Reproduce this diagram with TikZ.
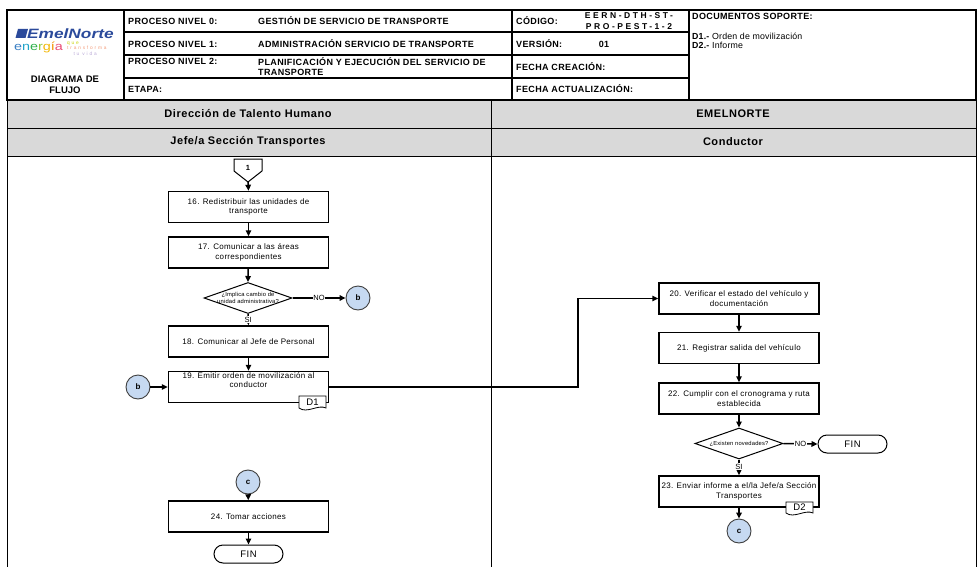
\documentclass[tikz,border=0pt]{standalone}
\usepackage{fontspec}
\setmainfont{Liberation Sans}
\usetikzlibrary{shapes.geometric,arrows.meta}
\definecolor{lanegray}{HTML}{D9D9D9}
\definecolor{connblue}{HTML}{C6D9F1}
\definecolor{logoblue}{HTML}{2B4A9B}
\tikzset{
  hdr/.style={line width=1.3pt},
  ht/.style={anchor=west, inner sep=0pt, font=\fontsize{9}{10}\selectfont\bfseries\addfontfeature{LetterSpace=4}},
  lanebox/.style={draw, line width=0.9pt, fill=lanegray},
  lanetxt/.style={font=\fontsize{11}{12}\selectfont\bfseries\addfontfeature{LetterSpace=5}},
  box/.style={draw, line width=1.5pt, minimum width=160, minimum height=31, inner sep=1pt,
    align=center, font=\fontsize{8}{9.5}\selectfont\addfontfeature{LetterSpace=4}},
  boxtxt/.style={align=center, inner sep=0pt, font=\fontsize{8}{9.5}\selectfont\addfontfeature{LetterSpace=4}},
  dec/.style={diamond, draw, line width=1pt, minimum width=88, minimum height=31, inner sep=0pt},
  dectxt/.style={align=center, inner sep=0pt, font=\fontsize{5.8}{6.8}\selectfont\addfontfeature{LetterSpace=3}},
  term/.style={draw, line width=1pt, rounded corners=9pt, minimum width=69, minimum height=18,
    inner sep=0pt, font=\fontsize{9.5}{10}\selectfont\addfontfeature{LetterSpace=5}},
  conn/.style={circle, draw=black!75, line width=0.9pt, fill=connblue, minimum size=24, inner sep=0pt,
    font=\fontsize{8}{9}\selectfont\bfseries},
  arr/.style={-{Triangle[length=6pt,width=5.5pt]}, line width=1.5pt},
  lbl/.style={fill=white, inner sep=0.5pt, font=\fontsize{7.5}{8}\selectfont},
  docshp/.style={draw, line width=0.8pt, fill=white},
}
\begin{document}
\begin{tikzpicture}[x=1pt,y=-1pt]
\useasboundingbox (0,0) rectangle (977,567);

% ---------- header ----------
\draw[hdr] (7,10) rectangle (976,100);
\draw[hdr] (124,10) -- (124,100);
\draw[hdr] (512,10) -- (512,100);
\draw[hdr] (689,10) -- (689,100);
\draw[hdr] (124,32) -- (689,32);
\draw[hdr] (124,55) -- (689,55);
\draw[hdr] (124,78) -- (689,78);

% logo
\fill[logoblue] (18,29) -- (28,29) -- (25.5,38) -- (15.5,38) -- cycle;
\node[anchor=west, inner sep=0pt, text=logoblue, font=\fontsize{13.5}{14}\selectfont\bfseries\itshape\addfontfeature{FakeStretch=1.28}] (logo) at (27,33.5) {EmelNorte};
\node[anchor=west, inner sep=0pt, font=\fontsize{11.5}{12}\selectfont\addfontfeature{FakeStretch=1.25}] (energia) at (14,47.5)
  {\textcolor[HTML]{3A7FC4}{e}\textcolor[HTML]{1FA3C9}{n}\textcolor[HTML]{2DB04B}{e}\textcolor[HTML]{8CC63F}{r}\textcolor[HTML]{F2B705}{g}\textcolor[HTML]{F39200}{í}\textcolor[HTML]{E94E77}{a}};
\node[anchor=west, inner sep=0pt, align=left, font=\fontsize{4.8}{5.4}\selectfont\addfontfeature{LetterSpace=38}] (lema) at (67,48.5)
  {\textcolor[HTML]{C9D200}{que}\\\textcolor[HTML]{F39C7B}{transforma}\\\textcolor[HTML]{B9A8D6}{\ \ tu vida}};
\node[align=center, inner sep=0pt, font=\fontsize{9.5}{11}\selectfont\bfseries] (diag) at (65,84.5) {DIAGRAMA DE\\FLUJO};

% process rows
\node[ht] (p0) at (128,21) {PROCESO NIVEL 0:};
\node[ht] (v0) at (258,21) {GESTIÓN DE SERVICIO DE TRANSPORTE};
\node[ht] (p1) at (128,44) {PROCESO NIVEL 1:};
\node[ht] (v1) at (258,44) {ADMINISTRACIÓN SERVICIO DE TRANSPORTE};
\node[ht] (p2) at (128,61) {PROCESO NIVEL 2:};
\node[ht, anchor=north west, align=left] (v2) at (258,57) {PLANIFICACIÓN Y EJECUCIÓN DEL SERVICIO DE\\TRANSPORTE};
\node[ht] (etapa) at (128,89) {ETAPA:};

% code column
\node[ht] (cod) at (516,21) {CÓDIGO:};
\node[ht, anchor=center, align=center, font=\fontsize{8.5}{11.5}\selectfont\bfseries\addfontfeature{LetterSpace=30}] (codv) at (629,21) {EERN-DTH-ST-\\PRO-PEST-1-2};
\node[ht] (ver) at (516,44) {VERSIÓN:};
\node[ht, anchor=center] (verv) at (604,44) {01};
\node[ht] (fc) at (516,67) {FECHA CREACIÓN:};
\node[ht] (fa) at (516,89) {FECHA ACTUALIZACIÓN:};

% documents
\node[ht] (docs) at (692,16) {DOCUMENTOS SOPORTE:};
\node[anchor=west, inner sep=0pt, font=\fontsize{8.8}{9}\selectfont\addfontfeature{LetterSpace=2}] (d1t) at (692,36) {\textbf{D1.-} Orden de movilización};
\node[anchor=west, inner sep=0pt, font=\fontsize{8.8}{9}\selectfont\addfontfeature{LetterSpace=2}] (d2t) at (692,45) {\textbf{D2.-} Informe};

% ---------- lanes ----------
\draw[lanebox] (7,100) rectangle (491,128);
\draw[lanebox] (491,100) rectangle (976,128);
\draw[lanebox] (7,128) rectangle (491,156);
\draw[lanebox] (491,128) rectangle (976,156);
\node[lanetxt] (l1) at (248,114) {Dirección de Talento Humano};
\node[lanetxt] (l2) at (733,114) {EMELNORTE};
\node[lanetxt] (l3) at (248,142) {Jefe/a Sección Transportes};
\node[lanetxt] (l4) at (733,142) {Conductor};
\draw[line width=0.9pt] (7,156) -- (7,567);
\draw[line width=0.9pt] (491,156) -- (491,567);
\draw[line width=0.9pt] (976,156) -- (976,567);

% ---------- left flow ----------
\draw[line width=1pt] (234,159) -- (262,159) -- (262,171) -- (248,182) -- (234,171) -- cycle;
\node[font=\fontsize{7.5}{8}\selectfont\bfseries, inner sep=0pt] (off1) at (248,168) {1};
\coordinate (off1tip) at (248,182);

\node[box] (b16) at (248.5,207) {16. Redistribuir las unidades de\\transporte};
\node[box] (b17) at (248.5,252.5) {17. Comunicar a las áreas\\correspondientes};
\node[dec] (dec1) at (248,298) {};
\node[dectxt] (dec1t) at (248,298) {¿Implica cambio de\\unidad administrativa?};
\node[conn] (bR) at (358,298) {b};
\node[box] (b18) at (248.5,341.5) {18. Comunicar al Jefe de Personal};
\node[box] (b19) at (248.5,387) {};
\node[boxtxt] (b19t) at ([yshift=7pt]b19.center) {19. Emitir orden de movilización al\\conductor};
\node[conn] (bL) at (138,387) {b};
\draw[docshp] (299,396) -- (326,396) -- (326,408) .. controls (318,404) and (307,414) .. (299,408) -- cycle;
\node[inner sep=0pt, font=\fontsize{9.5}{10}\selectfont] (d1) at (312.5,402) {D1};

\node[conn] (cL) at (248,482) {c};
\node[box] (b24) at (248.5,516.5) {24. Tomar acciones};
\node[term] (finL) at (248.5,554) {FIN};

% ---------- right flow ----------
\node[box] (b20) at (739,298.5) {20. Verificar el estado del vehículo y\\documentación};
\node[box] (b21) at (739,348) {21. Registrar salida del vehículo};
\node[box] (b22) at (739,398.5) {22. Cumplir con el cronograma y ruta\\establecida};
\node[dec] (dec2) at (739,443.5) {};
\node[dectxt] (dec2t) at (739,443.5) {¿Existen novedades?};
\node[term] (finR) at (852.5,444) {FIN};
\node[box] (b23) at (739,491.5) {23. Enviar informe a el/la Jefe/a Sección\\Transportes};
\draw[docshp] (786,502) -- (813,502) -- (813,513) .. controls (805,509) and (794,519) .. (786,513) -- cycle;
\node[inner sep=0pt, font=\fontsize{9.5}{10}\selectfont] (d2) at (799.5,507.5) {D2};
\node[conn] (cR) at (739,531) {c};

% ---------- connectors ----------
\coordinate (turnx) at (578,0);
\draw[arr] (off1tip) -- (b16.north);
\draw[arr] (b16) -- (b17);
\draw[arr] (b17) -- (dec1.north);
\draw[arr] (dec1.east) -- node[lbl, pos=0.5] {NO} (bR.west);
\draw[arr] (dec1.south) -- node[lbl, pos=0.5] {SI} (b18.north);
\draw[arr] (b18) -- (b19);
\draw[arr] (bL.east) -- (b19.west);
\draw[arr] (b19.east) -- (b19.east -| turnx) |- (b20.west);
\draw[arr] (b20) -- (b21);
\draw[arr] (b21) -- (b22);
\draw[arr] (b22) -- (dec2.north);
\draw[arr] (dec2.east) -- node[lbl, pos=0.5] {NO} (finR.west);
\draw[arr] (dec2.south) -- node[lbl, pos=0.45] {SI} (b23.north);
\draw[arr] (b23) -- (cR);
\draw[arr] (cL) -- (b24);
\draw[arr] (b24) -- (finL);
\end{tikzpicture}
\end{document}
